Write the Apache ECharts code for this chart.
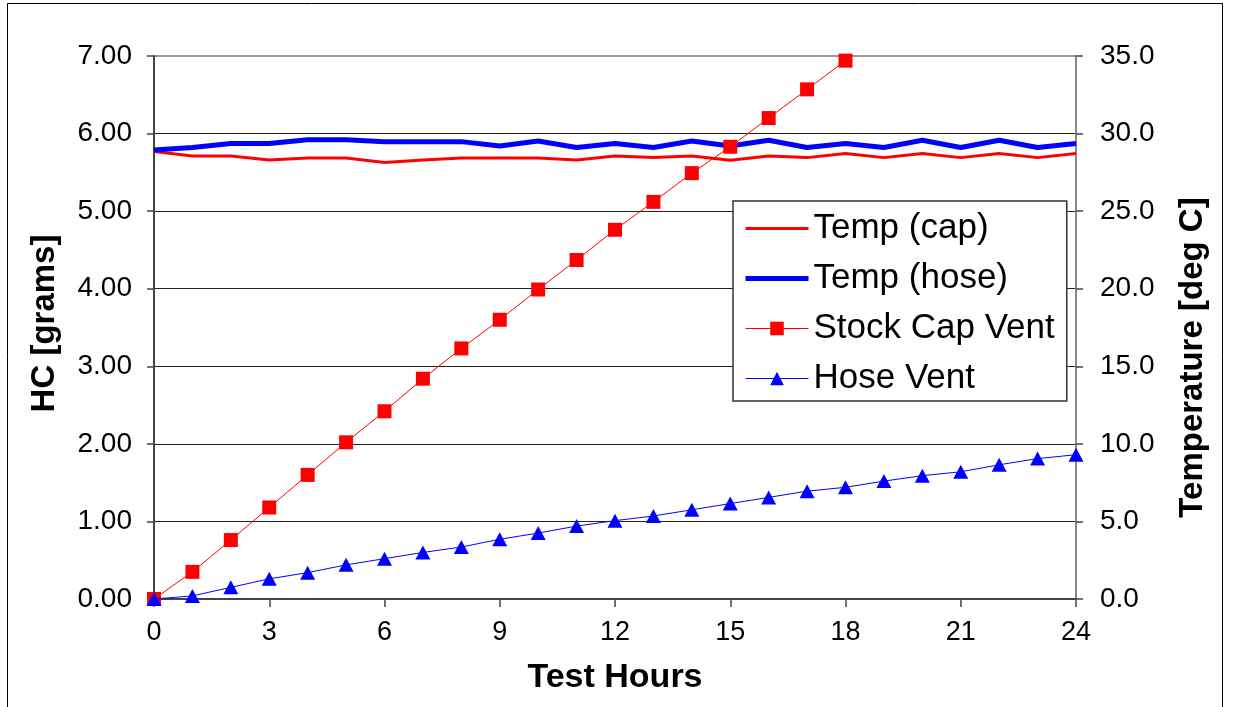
<!DOCTYPE html>
<html>
<head>
<meta charset="utf-8">
<script src="https://cdn.jsdelivr.net/npm/echarts@6/dist/echarts.min.js"></script>
<style>
html,body{margin:0;padding:0;background:#fff;}
#chart{width:1233px;height:707px;}
</style>
</head>
<body>
<div id="chart"></div>
<script>
// Data
var hours = [0,1,2,3,4,5,6,7,8,9,10,11,12,13,14,15,16,17,18,19,20,21,22,23,24];
var tempCap = [28.84,28.56,28.56,28.30,28.43,28.43,28.13,28.30,28.43,28.43,28.43,28.30,28.56,28.45,28.56,28.28,28.56,28.45,28.71,28.45,28.71,28.45,28.71,28.45,28.71];
var tempHose = [28.94,29.10,29.36,29.36,29.60,29.60,29.48,29.48,29.48,29.20,29.52,29.10,29.36,29.10,29.52,29.20,29.57,29.10,29.36,29.10,29.57,29.10,29.57,29.10,29.36];
var stockCapHours = [0,1,2,3,4,5,6,7,8,9,10,11,12,13,14,15,16,17,18,19];
var stockCapVent = [0,0.35,0.76,1.18,1.60,2.02,2.42,2.84,3.23,3.60,3.99,4.37,4.76,5.12,5.49,5.83,6.20,6.57,6.94,7.31];
var hoseVent = [0,0.04,0.15,0.26,0.34,0.44,0.52,0.60,0.67,0.77,0.85,0.94,1.01,1.07,1.15,1.23,1.31,1.39,1.44,1.52,1.59,1.64,1.73,1.81,1.86];
var seriesNames = ['Temp (cap)','Temp (hose)','Stock Cap Vent','Hose Vent'];
var xTitle = 'Test Hours';
var yLeftTitle = 'HC [grams]';
var yRightTitle = 'Temperature [deg C]';

function pairs(xs, ys){ return ys.map(function(v,i){ return [xs[i], v]; }); }

var FONT = "'Liberation Sans', Arial, sans-serif";
var chart = echarts.init(document.getElementById('chart'), null, {renderer:'canvas'});
chart.setOption({
  backgroundColor:'#fff',
  animation:false,
  textStyle:{fontFamily:FONT},
  graphic:[{type:'rect', shape:{x:7.5,y:3.5,width:1215,height:710}, style:{fill:null, stroke:'#000', lineWidth:1}, z:-1}],
  grid:{left:154, right:157, top:56, bottom:108, show:true, borderColor:'#999', borderWidth:2, backgroundColor:'#fff'},
  legend:{
    orient:'vertical', left:733, top:201,
    padding:[10,12,5,10], itemGap:15,
    itemWidth:63, itemHeight:17,
    backgroundColor:'#fff', borderColor:'#333', borderWidth:1.5,
    textStyle:{fontFamily:FONT, fontSize:35, color:'#000'},
    data:[
      {name:seriesNames[0], itemStyle:{opacity:0}, lineStyle:{width:3, color:'#ff0000'}},
      {name:seriesNames[1], itemStyle:{opacity:0}, lineStyle:{width:5, color:'#0000ff'}},
      {name:seriesNames[2], lineStyle:{width:1, color:'#ff0000'}},
      {name:seriesNames[3], lineStyle:{width:1, color:'#0000ff'}}
    ]
  },
  xAxis:{
    type:'value', min:0, max:24, interval:3,
    name:xTitle, nameLocation:'middle', nameGap:62,
    nameTextStyle:{fontFamily:FONT, fontSize:34, fontWeight:'bold', color:'#000'},
    axisLine:{show:true, onZero:false, lineStyle:{color:'#444', width:2}},
    axisTick:{show:true, inside:false, length:8, lineStyle:{color:'#444', width:1.5}},
    axisLabel:{margin:20, fontSize:27, color:'#000', fontFamily:FONT},
    splitLine:{show:false}
  },
  yAxis:[{
    type:'value', min:0, max:7, interval:1, position:'left',
    name:yLeftTitle, nameLocation:'middle', nameGap:93,
    nameTextStyle:{fontFamily:FONT, fontSize:33, fontWeight:'bold', color:'#000', padding:[0,0,0,8]},
    axisLine:{show:true, lineStyle:{color:'#444', width:2}},
    axisTick:{show:true, inside:false, length:7, lineStyle:{color:'#444', width:1.5}},
    axisLabel:{margin:22, fontSize:28, color:'#000', fontFamily:FONT, formatter:function(v){return v.toFixed(2);}},
    splitLine:{show:true, lineStyle:{color:['#222','#222','#222','#222','#222','#222','#222','#999'], width:1.2}}
  },{
    type:'value', min:0, max:35, interval:5, position:'right',
    name:yRightTitle, nameLocation:'middle', nameGap:100,
    nameTextStyle:{fontFamily:FONT, fontSize:33, fontWeight:'bold', color:'#000', padding:[0,60,0,0]},
    axisLine:{show:true, lineStyle:{color:'#888', width:2}},
    axisTick:{show:true, inside:false, length:7, lineStyle:{color:'#444', width:1.5}},
    axisLabel:{margin:24, fontSize:28, color:'#000', fontFamily:FONT, formatter:function(v){return v.toFixed(1);}},
    splitLine:{show:false}
  }],
  series:[
    {name:seriesNames[0], type:'line', yAxisIndex:1, data:pairs(hours,tempCap), symbol:'none',
     lineStyle:{color:'#ff0000', width:3}, itemStyle:{color:'#ff0000'}, z:2},
    {name:seriesNames[1], type:'line', yAxisIndex:1, data:pairs(hours,tempHose), symbol:'none',
     lineStyle:{color:'#0000ff', width:5}, itemStyle:{color:'#0000ff'}, z:3},
    {name:seriesNames[2], type:'line', yAxisIndex:0, data:pairs(stockCapHours,stockCapVent), symbol:'rect', symbolSize:14,
     lineStyle:{color:'#ff0000', width:1}, itemStyle:{color:'#ff0000'}, z:4},
    {name:seriesNames[3], type:'line', yAxisIndex:0, data:pairs(hours,hoseVent), symbol:'triangle', symbolSize:[15,14],
     lineStyle:{color:'#0000ff', width:1}, itemStyle:{color:'#0000ff'}, z:5}
  ]
});
</script>
</body>
</html>
